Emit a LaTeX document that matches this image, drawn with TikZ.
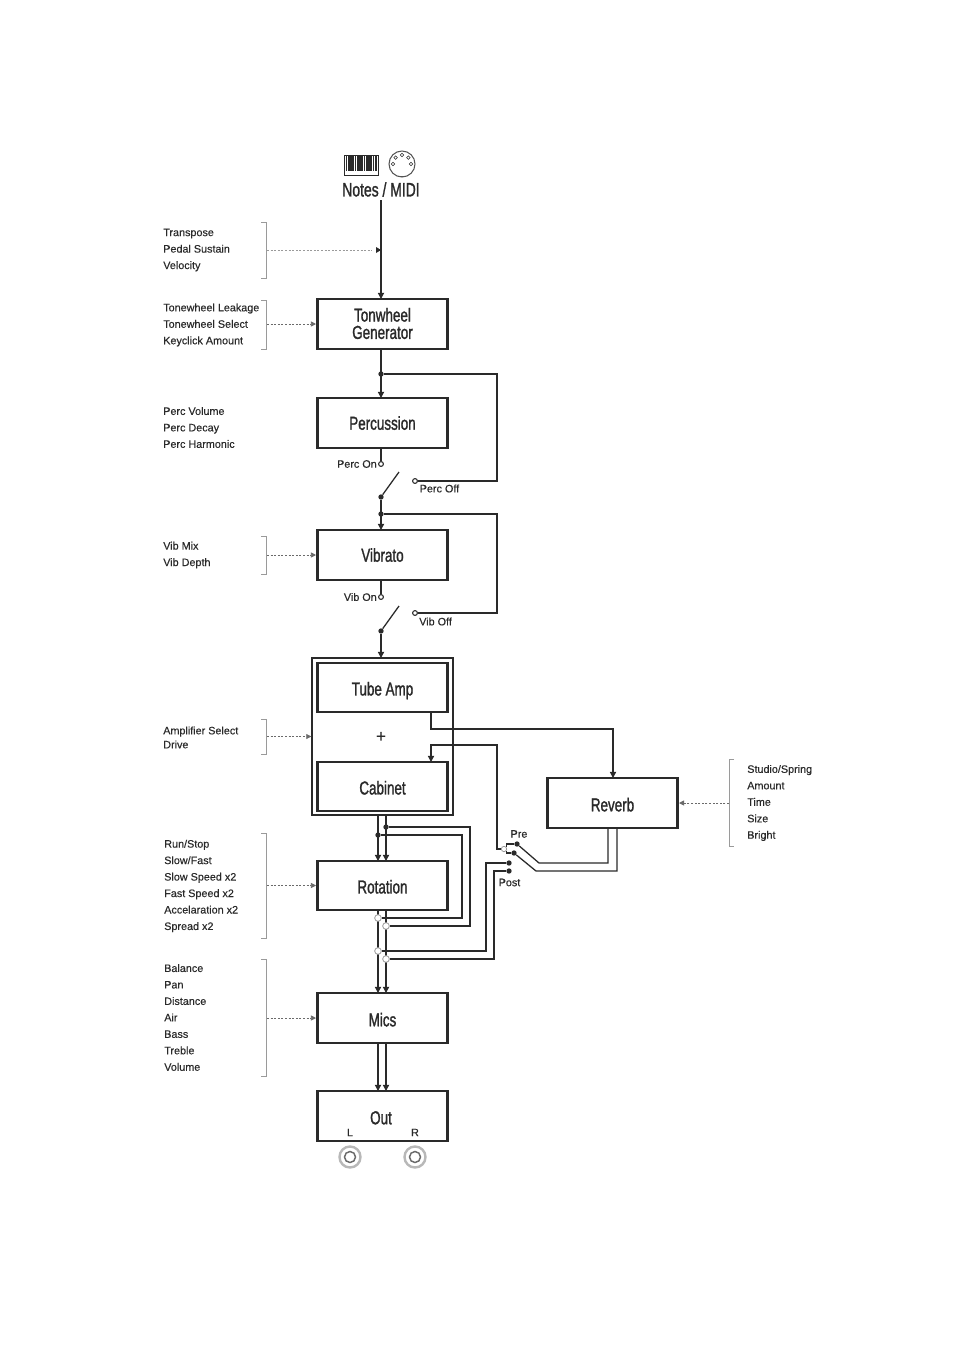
\documentclass[tikz,border=0pt]{standalone}
\usepackage{fontspec}
\setmainfont{Liberation Sans}[FakeBold=1.6]
\newfontfamily\smalllabel{Liberation Sans}[FakeBold=0.25]
\usetikzlibrary{arrows.meta,calc}
\definecolor{ink}{HTML}{2A2A2A}
\definecolor{soft}{HTML}{9A9A9A}
\newcommand{\narrowtext}[2][0]{\raisebox{-#1pt}[0.72em][0em]{\scalebox{0.72}[1]{#2}}}
\tikzset{
  blockbox/.style={draw=ink,line width=1.9pt,minimum width=130.5*0.75pt,inner sep=0pt,
    font=\fontsize{14}{14.5}\selectfont,text=ink,align=center},
  wire/.style={draw=ink,line width=0.95pt},
  flow/.style={wire,-{Triangle[length=4.6pt,width=4.6pt]}},
  params/.style={anchor=west,inner sep=0pt,align=left,text=ink,font=\smalllabel\fontsize{8.1}{12.35}\selectfont},
  tag/.style={inner sep=0pt,text=ink,font=\smalllabel\fontsize{8.1}{9}\selectfont},
  bracket/.style={draw=soft,line width=0.6pt},
  ctrl/.style={draw=ink!70,line width=0.5pt,dash pattern=on 1.5pt off 1.2pt,
    -{Triangle[length=3.8pt,width=3.8pt]}},
  ctrlsoft/.style={ctrl,draw=soft},
  jdot/.style={circle,fill=ink,inner sep=0pt,minimum size=4pt},
  hollow/.style={circle,draw=ink,fill=white,line width=0.8pt,inner sep=0pt,minimum size=3.6pt},
  tap/.style={circle,draw=soft,fill=white,line width=0.6pt,inner sep=0pt,minimum size=5pt},
}
\begin{document}
\begin{tikzpicture}[x=0.75pt,y=-0.75pt]
\useasboundingbox[fill=white] (0,0) rectangle (953,1352);

% --- signal blocks
\node[blockbox,minimum height=50*0.75pt] (tone) at (382.5,324) {\narrowtext[-0.4]{Tonwheel}\\[-1.5pt]\narrowtext[-0.4]{Generator}};
\node[blockbox,minimum height=50*0.75pt] (perc) at (382.5,423) {\narrowtext{Percussion}};
\node[blockbox,minimum height=50*0.75pt] (vib)  at (382.5,555) {\narrowtext{Vibrato}};
\node[blockbox,minimum height=49*0.75pt] (tube) at (382.5,687.5) {\narrowtext[0.9]{Tube Amp}};
\node[blockbox,minimum height=49*0.75pt] (cab)  at (382.5,786.5) {\narrowtext[0.9]{Cabinet}};
\node[blockbox,minimum height=49*0.75pt] (rot)  at (382.5,885.5) {\narrowtext[0.9]{Rotation}};
\node[blockbox,minimum height=50*0.75pt] (mics) at (382.5,1018) {\narrowtext[1.2]{Mics}};
\node[blockbox,minimum height=50*0.75pt] (out)  at (382.5,1116) {};
\node[blockbox,minimum height=50*0.75pt] (rev)  at (612.5,803) {\narrowtext[1.2]{Reverb}};
\node[draw=ink,line width=1pt,minimum width=141*0.75pt,minimum height=157*0.75pt,inner sep=0pt] (amp) at (382.5,736.5) {};
\node[inner sep=0pt,text=ink,font=\smalllabel\fontsize{13}{14}\selectfont] (plus) at (381,737) {+};

% --- source title and icons
\node[inner sep=0pt,text=ink,font=\fontsize{14.5}{15}\selectfont] (src) at (381,189.5) {\scalebox{0.72}[1]{Notes / MIDI}};
\node[draw=ink,line width=0.5pt,minimum width=34*0.75pt,minimum height=20*0.75pt,inner sep=0pt] (keys) at (361,165) {};
\foreach \k in {0,...,13}{
  \draw[ink,line width=1.25pt] (346.5+\k*2.25,155.5) -- (346.5+\k*2.25,171);
}
\node[circle,draw=ink!80,line width=0.8pt,minimum size=26*0.75pt,inner sep=0pt] (midi) at (402,164) {};
\foreach \a in {180,225,270,315,360}{
  \fill[white] (402,164) ++(\a:9) circle (1.8);
  \draw[ink,line width=0.4pt] (402,164) ++(\a:9) circle (1.8);
}
\fill[ink!80] (399,176) rectangle (405,177.5);

% --- main vertical path
\coordinate (srcfoot) at (381,200);
\coordinate (toneIn) at (381,299);
\draw[flow] (srcfoot) -- (toneIn);

\coordinate (toneOut) at (381,349);
\coordinate (percIn) at (381,398);
\node[jdot] (j1) at (381,374) {};
\draw[flow] (toneOut) -- (percIn);

\coordinate (percOut) at (381,448);
\node[hollow] (percOn) at (381,464) {};
\node[hollow] (percOff) at (415,481) {};
\node[jdot] (percArm) at (381,497) {};
\node[jdot] (j2) at (381,514) {};
\coordinate (percTip) at (399,472);
\coordinate (vibIn) at (381,530);
\draw[wire] (percOut) -- (percOn);
\draw[wire] (percArm) -- (percTip);
\draw[flow] (percArm) -- (vibIn);
\draw[wire] (j1) -| (497,481) -- (percOff);

\coordinate (vibOut) at (381,580);
\node[hollow] (vibOn) at (381,597) {};
\node[hollow] (vibOff) at (415,613) {};
\node[jdot] (vibArm) at (381,631) {};
\coordinate (vibTip) at (399,606);
\coordinate (ampIn) at (381,658);
\draw[wire] (vibOut) -- (vibOn);
\draw[wire] (vibArm) -- (vibTip);
\draw[flow] (vibArm) -- (ampIn);
\draw[wire] (j2) -| (497,613) -- (vibOff);

% --- reverb send and return
\coordinate (tubeOut) at (431,712);
\coordinate (revIn) at (613,778);
\draw[flow] (tubeOut) |- (560,729) -| (revIn);
\node[tap,minimum size=4pt] (preTap) at (504,849) {};
\coordinate (cabIn) at (431,762);
\draw[flow] (preTap) -| (497,745) -| (cabIn);

% --- stereo pair through the rotary section
\coordinate (cabL) at (378,815);
\coordinate (cabR) at (386,815);
\coordinate (rotInL) at (378,861);
\coordinate (rotInR) at (386,861);
\coordinate (rotOutL) at (378,910);
\coordinate (rotOutR) at (386,910);
\coordinate (micInL) at (378,993);
\coordinate (micInR) at (386,993);
\coordinate (micOutL) at (378,1043);
\coordinate (micOutR) at (386,1043);
\coordinate (outInL) at (378,1091);
\coordinate (outInR) at (386,1091);
\draw[flow] (cabL) -- (rotInL);
\draw[flow] (cabR) -- (rotInR);
\draw[flow] (rotOutL) -- (micInL);
\draw[flow] (rotOutR) -- (micInR);
\draw[flow] (micOutL) -- (outInL);
\draw[flow] (micOutR) -- (outInR);

\node[jdot] (byL) at (378,835) {};
\node[jdot] (byR) at (386,827) {};
\node[tap] (retL) at (378,918) {};
\node[tap] (retR) at (386,926) {};
\node[tap] (postL) at (378,951) {};
\node[tap] (postR) at (386,959) {};
\draw[wire] (byL) -| (462,918) -- (retL);
\draw[wire] (byR) -| (470,926) -- (retR);

% --- pre/post selector
\node[jdot] (preA) at (517,844) {};
\node[jdot] (preB) at (514,853) {};
\node[jdot] (postA) at (509,863) {};
\node[jdot] (postB) at (509,871) {};
\draw[wire] (postL) -| (486,863) -- (postA);
\draw[wire] (postR) -| (494,871) -- (postB);
\draw[wire] (preTap.north east) |- (preA);
\draw[wire] (preTap.south east) |- (preB);
\coordinate (revOutA) at (608,828);
\coordinate (revOutB) at (617,828);
\draw[wire] (preA) -- (539,863) -| (revOutA);
\draw[wire] (preB) -- (536,871) -| (revOutB);

% --- output jacks
\node[inner sep=0pt,text=ink,font=\fontsize{14}{14.5}\selectfont] (outlabel) at (381,1117.5) {\narrowtext{Out}};
\node[tag] (chL) at (350,1132.5) {L};
\node[tag] (chR) at (415,1132.5) {R};
\foreach \n/\cx in {jackL/350,jackR/415}{
  \node[circle,draw=soft!70,line width=1.8pt,minimum size=21*0.75pt,inner sep=0pt] (\n) at (\cx,1157) {};
  \node[circle,draw=ink!70,line width=1.1pt,minimum size=11*0.75pt,inner sep=0pt] at (\cx,1157) {};
}

% --- switch labels
\node[tag,anchor=east] (lpercon) at (377,464) {Perc On};
\node[tag,anchor=west] (lpercoff) at (419.5,488.5) {Perc Off};
\node[tag,anchor=east] (lvibon) at (377,597) {Vib On};
\node[tag,anchor=west] (lviboff) at (419,621.5) {Vib Off};
\node[tag] (lpre) at (519,834) {Pre};
\node[tag] (lpost) at (509.5,882.5) {Post};

% --- parameter lists
\node[params] (p1) at (163,250) {Transpose\\Pedal Sustain\\Velocity};
\node[params] (p2) at (163,325) {Tonewheel Leakage\\Tonewheel Select\\Keyclick Amount};
\node[params] (p3) at (163,427.5) {Perc Volume\\Perc Decay\\Perc Harmonic};
\node[params] (p4) at (163,555) {Vib Mix\\Vib Depth};
\node[params,font=\smalllabel\fontsize{8.1}{10.5}\selectfont] (p5) at (163,737.5) {Amplifier Select\\Drive};
\node[params] (p6) at (164,886) {Run/Stop\\Slow/Fast\\Slow Speed x2\\Fast Speed x2\\Accelaration x2\\Spread x2};
\node[params] (p7) at (164,1017.5) {Balance\\Pan\\Distance\\Air\\Bass\\Treble\\Volume};
\node[params] (p8) at (747,803) {Studio/Spring\\Amount\\Time\\Size\\Bright};

% --- parameter brackets and control feeds
\draw[bracket] (261,222) -- (266,222) -- (266,278) -- (261,278);
\draw[bracket] (261,300) -- (266,300) -- (266,349) -- (261,349);
\draw[bracket] (261,536) -- (266,536) -- (266,574) -- (261,574);
\draw[bracket] (261,719) -- (266,719) -- (266,754) -- (261,754);
\draw[bracket] (261,833) -- (266,833) -- (266,938) -- (261,938);
\draw[bracket] (261,959) -- (266,959) -- (266,1076) -- (261,1076);
\draw[bracket] (734,759) -- (729,759) -- (729,846) -- (734,846);
\coordinate (c1) at (267,250); \coordinate (c1e) at (381,250);
\coordinate (c2) at (267,324); \coordinate (c3) at (267,555);
\coordinate (c4) at (267,736.5); \coordinate (c5) at (267,885.5);
\coordinate (c6) at (267,1018); \coordinate (c7) at (729,803);
\draw[ctrlsoft,-] (c1) -- (372,250);
\fill[ink] (381,250) -- (376,247) -- (376,253) -- cycle;
\draw[ctrl] (c2) -- (tone.west);
\draw[ctrl] (c3) -- (vib.west);
\draw[ctrl] (c4) -- (amp.west);
\draw[ctrl] (c5) -- (rot.west);
\draw[ctrl] (c6) -- (mics.west);
\draw[ctrl] (c7) -- (rev.east);
\end{tikzpicture}
\end{document}
